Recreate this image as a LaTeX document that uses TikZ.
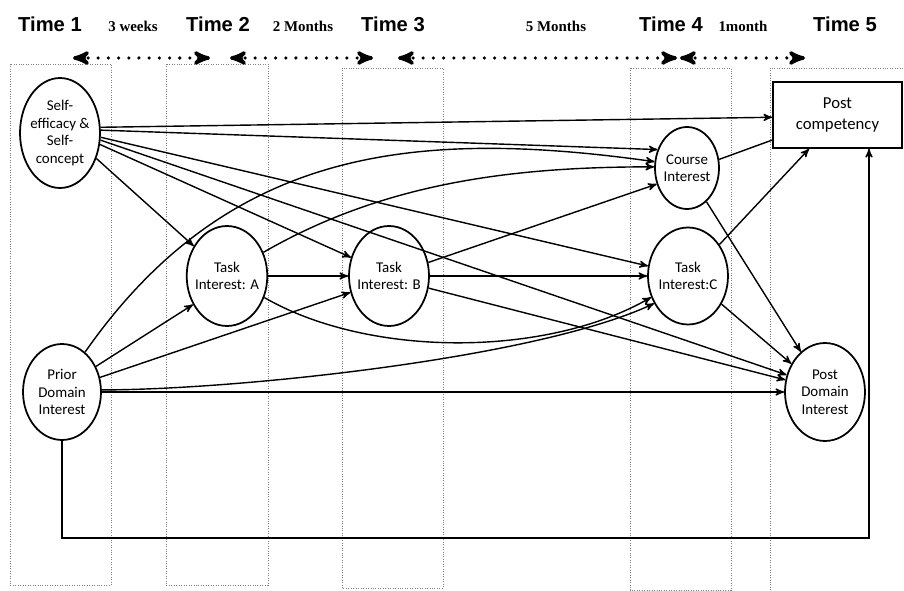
\documentclass[tikz,border=0pt]{standalone}
\usepackage{fontspec}
\setmainfont{Carlito}
\newfontfamily\timefont{Liberation Sans}
\newfontfamily\gapfont{Liberation Serif}
\usetikzlibrary{arrows,shapes.geometric}

\begin{document}
\begin{tikzpicture}[-,>=stealth',x=0.02cm,y=0.02cm,thick,
  main node/.style={ellipse,draw,line width=1pt,inner sep=-2pt,minimum width=1.6cm,
    minimum height=2cm,align=center,font=\fontsize{8.5}{10}\selectfont},
  outcome node/.style={rectangle,draw,line width=1pt,minimum width=2.58cm,
    minimum height=1.32cm,align=center,font=\fontsize{9.5}{12.5}\selectfont},
  time node/.style={anchor=base,font=\timefont\bfseries\fontsize{11.5}{13}\selectfont},
  gap node/.style={anchor=base,font=\gapfont\bfseries\fontsize{8.5}{10}\selectfont},
  wave box/.style={draw=gray,densely dotted,thin},
  gap arrow/.style={<->,line width=2pt,dash pattern=on 0pt off 5.8pt,line cap=round}]
  \useasboundingbox (0,0) rectangle (904,-591);

  % measurement waves
  \foreach \l/\r/\t/\b in {10/111/64/585,166/268/64/585,342/443/68/588,630/731/68/590}
    \draw[wave box] (\l,-\t) rectangle (\r,-\b);
  \draw[wave box] (770,-595) -- (770,-68) -- (910,-68);

  \foreach \x/\n in {50/1,218/2,393/3,671/4,845/5}
    \node[time node] (time\n) at (\x,-32) {Time \n};
  \node[gap node] (gap1) at (133,-32) {3 weeks};
  \node[gap node] (gap2) at (303,-32) {2 Months};
  \node[gap node] (gap3) at (556,-32) {5 Months};
  \node[gap node] (gap4) at (743,-32) {1month};
  \foreach \a/\b in {73/210,230/373,398/677,680/805}
    \draw[gap arrow] (\a,-58) -- (\b,-58);

  \node[main node,minimum height=2.2cm] (self) at (60,-133) {Self-\\efficacy \&\\Self-\\concept};
  \node[main node,minimum width=1.56cm,minimum height=1.92cm] (prior) at (62,-392) {Prior\\Domain\\Interest};
  \node[main node] (taskA) at (227,-276) {Task\\Interest: A};
  \node[main node] (taskB) at (389,-276) {Task\\Interest: B};
  \node[main node,minimum height=1.94cm] (taskC) at (688,-276) {Task\\Interest:C};
  \node[main node,minimum width=1.28cm,minimum height=1.64cm] (course) at (687,-168) {Course\\Interest};
  \node[main node,minimum height=1.96cm] (postdom) at (825,-392) {Post\\Domain\\Interest};
  \node[outcome node] (postcomp) at (837.5,-115) {Post\\competency};
  \coordinate (loop) at (869,-538);

  \path[->]
    (self.8) edge (postcomp.182)
    (self.4) edge (course.148)
    (self.-6) edge (taskC.166)
    (self.-10) edge (postdom.156)
    (self.-16) edge (taskB.154)
    (self.-35) edge (taskA.138)
    (prior.60) edge[out=55,in=172,looseness=1.05] (course.169)
    (prior.37) edge (taskA.220)
    (prior.21) edge (taskB.203)
    (prior.3) edge[out=0,in=205,looseness=0.6] (taskC.219)
    (prior.east) edge (postdom.west)
    (taskA.33) edge[out=30,in=180,looseness=0.9] (course.178)
    (taskA.east) edge (taskB.west)
    (taskA.-30) edge[out=-30,in=210,looseness=0.8] (taskC.210)
    (taskB.19) edge (course.208)
    (taskB.east) edge (taskC.west)
    (taskB.-17) edge (postdom.163)
    (taskC.45) edge (postcomp.230)
    (taskC.-40) edge (postdom.140)
    (course.15) edge[-] (postcomp.201)
    (course.-60) edge (postdom.121);
  \draw[->] (prior.south) |- (loop) -- (loop |- postcomp.south);
\end{tikzpicture}
\end{document}
